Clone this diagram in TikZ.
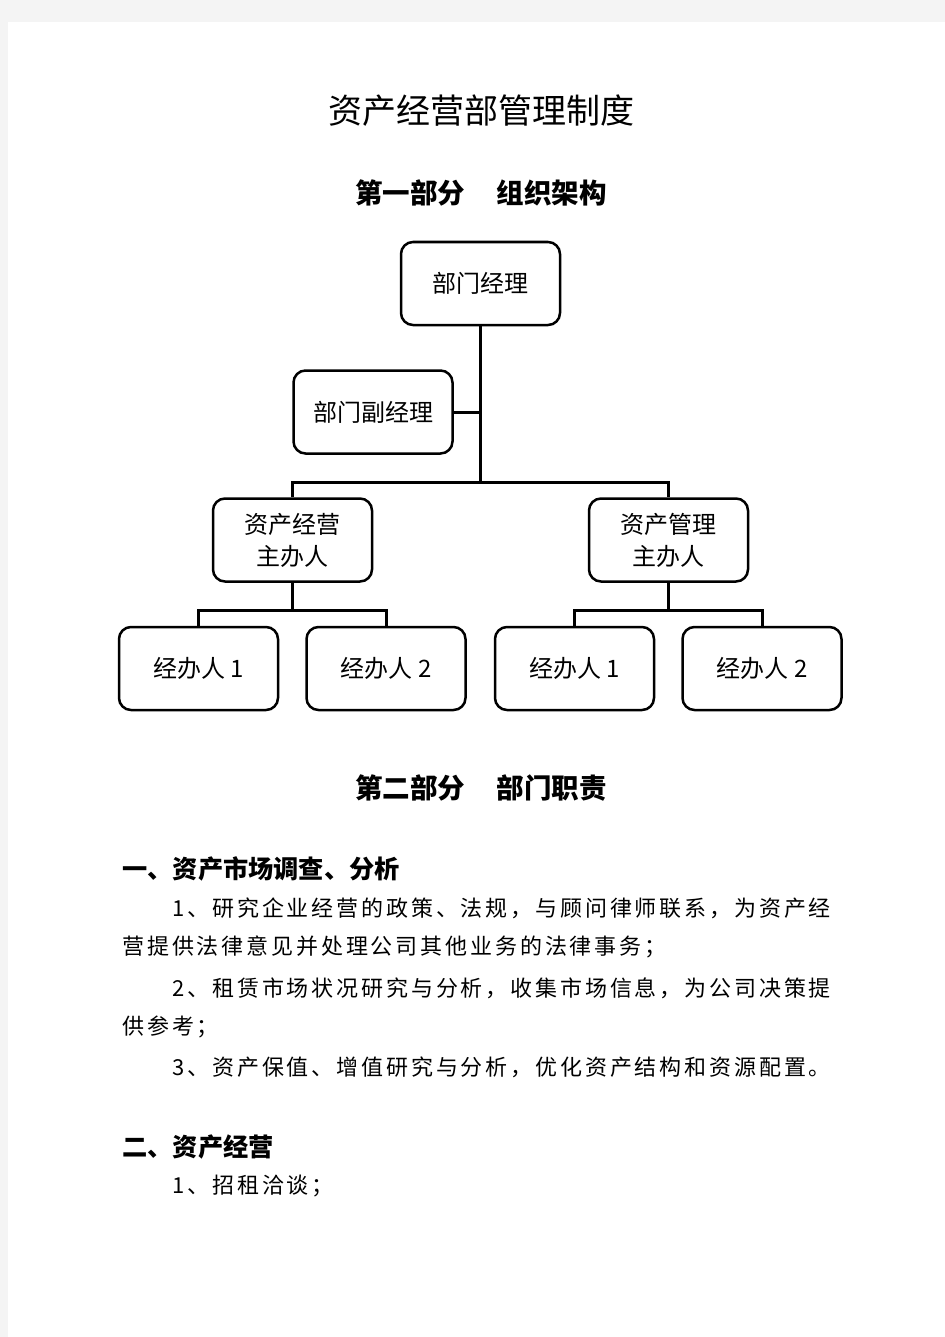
\documentclass[tikz,border=0pt]{standalone}
\usepackage{fontspec}
\setmainfont{Noto Sans CJK SC}
\newfontfamily\bodyfont[LetterSpace=13]{Noto Sans CJK SC}
\usetikzlibrary{positioning}
\definecolor{pagegray}{RGB}{244,244,244}
\tikzset{
  post/.style={draw,line width=1.25pt,rounded corners=6pt,minimum width=79.5pt,
    minimum height=41.5pt,inner sep=0pt,align=center,font=\fontsize{12}{16}\selectfont},
  link/.style={line width=1.5pt},
  parthead/.style={inner sep=0pt,font=\fontsize{13.75}{16}\selectfont\bfseries},
  sechead/.style={inner sep=0pt,anchor=west,font=\fontsize{12.6}{15}\selectfont\bfseries},
  bodyline/.style={inner sep=0pt,anchor=west,font=\bodyfont\fontsize{11}{13}\selectfont}
}

\begin{document}
\begin{tikzpicture}[x=0.5pt,y=-0.5pt]
  % page
  \fill[pagegray] (0,0) rectangle (945,1337);
  \fill[white] (8,22) rectangle (945,1337);

  \node[inner sep=0pt,font=\fontsize{17}{20}\selectfont] (title) at (481,111) {资产经营部管理制度};
  \node[parthead] (part1) at (481,193) {第一部分\hspace{16pt}组织架构};

  % chart
  \node[post] (mgr)     at (480.5,283.5) {部门经理};
  \node[post] (dep)     at (373,412)     {部门副经理};
  \node[post] (opsmain) at (292.5,540)   {资产经营\\主办人};
  \node[post] (mgtmain) at (668.5,540)   {资产管理\\主办人};
  \node[post] (opsA)    at (198.5,668.5) {经办人 1};
  \node[post] (opsB) [right=13pt of opsA] {经办人 2};
  \node[post] (mgtA) [right=13.5pt of opsB] {经办人 1};
  \node[post] (mgtB) [right=13pt of mgtA] {经办人 2};

  \coordinate (split)   at (480.5,482);
  \coordinate (opsfork) at (292.5,610);
  \coordinate (mgtfork) at (668.5,610);

  \draw[link] (mgr) -- (split);
  \draw[link] (dep.east) -- (dep.east -| mgr);
  \draw[link] (opsmain.north) |- (split) -| (mgtmain.north);
  \draw[link] (opsmain) -- (opsfork);
  \draw[link] (opsA.north) |- (opsfork) -| (opsB.north);
  \draw[link] (mgtmain) -- (mgtfork);
  \draw[link] (mgtA.north) |- (mgtfork) -| (mgtB.north);

  % duties
  \node[parthead] (part2) at (481,788) {第二部分\hspace{16pt}部门职责};
  \node[sechead] (sec1) at (122,869) {一、资产市场调查、分析};
  \node[bodyline] (l1) at (172,908)  {1、研究企业经营的政策、法规，与顾问律师联系，为资产经};
  \node[bodyline] (l2) at (122,947)  {营提供法律意见并处理公司其他业务的法律事务；};
  \node[bodyline] (l3) at (172,988)  {2、租赁市场状况研究与分析，收集市场信息，为公司决策提};
  \node[bodyline] (l4) at (122,1027) {供参考；};
  \node[bodyline] (l5) at (172,1067) {3、资产保值、增值研究与分析，优化资产结构和资源配置。};
  \node[sechead] (sec2) at (122,1147) {二、资产经营};
  \node[bodyline] (l6) at (172,1186) {1、招租洽谈；};
\end{tikzpicture}
\end{document}
